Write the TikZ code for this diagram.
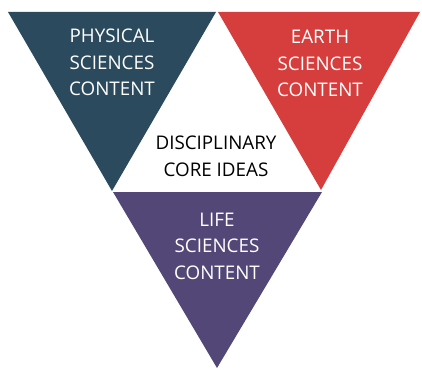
\documentclass[tikz,border=0pt]{standalone}
\usepackage{fontspec}
\setmainfont{Open Sans}
\usepackage{xcolor}
\definecolor{physblue}{HTML}{2B4A5E}
\definecolor{earthred}{HTML}{D63E3E}
\definecolor{lifepurple}{HTML}{524776}

\begin{document}
\begin{tikzpicture}[x=1pt,y=-1pt]
    \useasboundingbox (0,0) rectangle (422,369);
    \tikzset{lbl/.style={font=\fontsize{18.8}{26.5}\selectfont,align=center,text=white}}

    % Triangolo fisica
    \coordinate (p1) at (8,12);
    \coordinate (p2) at (216,12);
    \coordinate (p3) at (112,191);
    \fill[physblue] (p1) -- (p2) -- (p3) -- cycle;
    \node[lbl] (phys) at (112,62.5) {PHYSICAL\\SCIENCES\\CONTENT};

    % Triangolo terra
    \coordinate (e1) at (218,12);
    \coordinate (e2) at (420,12);
    \coordinate (e3) at (321,190);
    \fill[earthred] (e1) -- (e2) -- (e3) -- cycle;
    \node[lbl] (earth) at (320,63.5) {EARTH\\SCIENCES\\CONTENT};

    % Triangolo vita
    \coordinate (l1) at (113,192);
    \coordinate (l2) at (322,192);
    \coordinate (l3) at (217,368);
    \fill[lifepurple] (l1) -- (l2) -- (l3) -- cycle;
    \node[lbl] (life) at (217,246) {LIFE\\SCIENCES\\CONTENT};

    % Idee centrali
    \node[lbl,text=black] (core) at (216,156.5) {DISCIPLINARY\\CORE IDEAS};
\end{tikzpicture}
\end{document}
